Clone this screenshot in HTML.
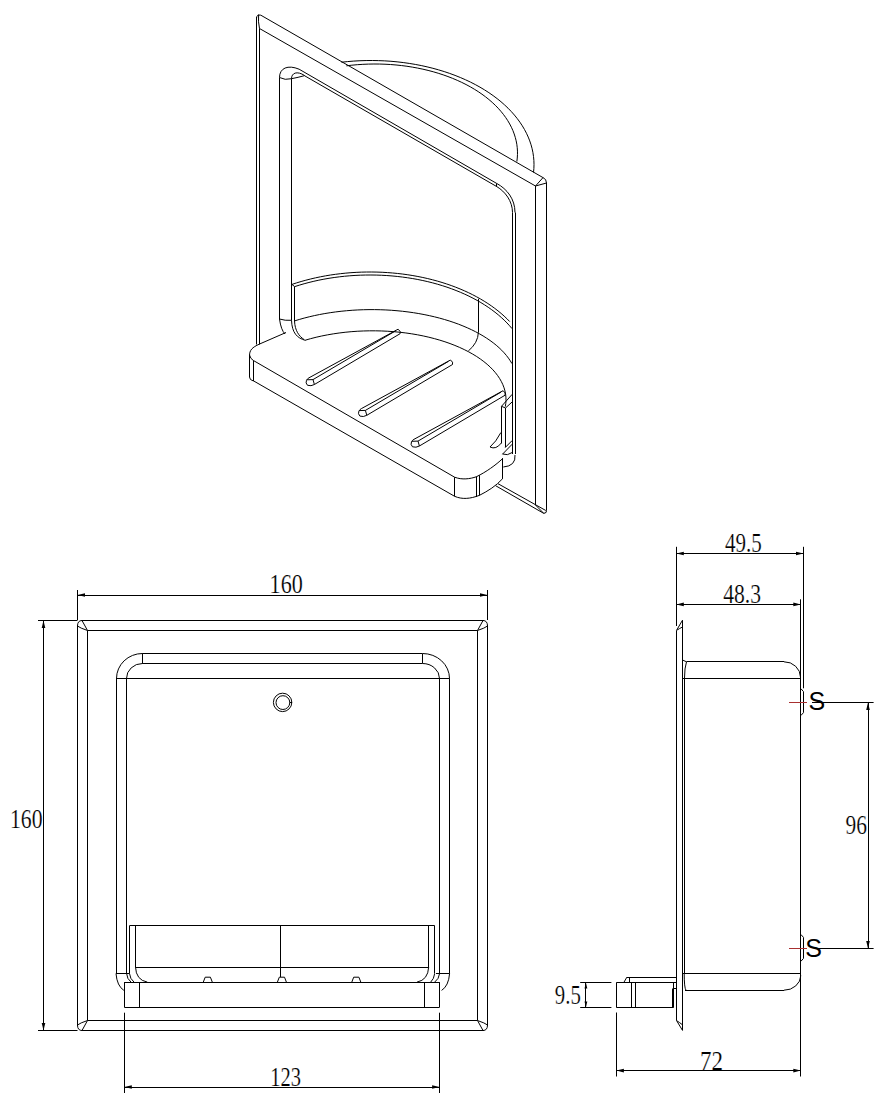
<!DOCTYPE html>
<html><head><meta charset="utf-8"><style>
html,body{margin:0;padding:0;background:#fff;width:896px;height:1118px;overflow:hidden}
svg{display:block}
text{fill:#000;stroke:#fff;stroke-width:0.2px;paint-order:normal}
</style></head><body>
<svg width="896" height="1118" viewBox="0 0 896 1118">
<g fill="none" stroke="#000" stroke-width="1">
<line x1="77.5" y1="590" x2="77.5" y2="620"/>
<line x1="487.5" y1="590" x2="487.5" y2="620"/>
<line x1="77.5" y1="595.5" x2="487.5" y2="595.5"/>
<polygon points="77.5,595 85.0,593.2 85.0,596.8" fill="#000" stroke="none"/>
<polygon points="487.5,595 480.0,593.2 480.0,596.8" fill="#000" stroke="none"/>
<text x="269.6" y="593.0" font-size="26.5" font-family="Liberation Serif, serif" textLength="33.2" lengthAdjust="spacingAndGlyphs" text-anchor="start">160</text>
<line x1="38" y1="620.5" x2="77.5" y2="620.5"/>
<line x1="38" y1="1030.5" x2="77.5" y2="1030.5"/>
<line x1="43.5" y1="620.5" x2="43.5" y2="1030.5"/>
<polygon points="43.5,620.5 41.7,628.0 45.3,628.0" fill="#000" stroke="none"/>
<polygon points="43.5,1030.5 41.7,1023.0 45.3,1023.0" fill="#000" stroke="none"/>
<text x="10.0" y="827.9" font-size="26.5" font-family="Liberation Serif, serif" textLength="32.6" lengthAdjust="spacingAndGlyphs" text-anchor="start">160</text>
<line x1="81.5" y1="620.5" x2="484" y2="620.5"/>
<line x1="81.5" y1="1030.5" x2="484" y2="1030.5"/>
<line x1="77.5" y1="625" x2="77.5" y2="1026"/>
<line x1="487.5" y1="625" x2="487.5" y2="1026"/>
<path d="M77.5,626 Q77.5,620.5 82,620.5 L87.5,630.5 Q80,628 77.5,626"/>
<path d="M487.5,626 Q487.5,620.5 483,620.5 L477.5,630.5 Q485,628 487.5,626"/>
<path d="M77.5,1025 Q77.5,1030.5 82,1030.5 L87.5,1020.5 Q80,1023 77.5,1025"/>
<path d="M487.5,1025 Q487.5,1030.5 483,1030.5 L477.5,1020.5 Q485,1023 487.5,1025"/>
<line x1="87.5" y1="630.5" x2="477.5" y2="630.5"/>
<line x1="87.5" y1="1020.5" x2="477.5" y2="1020.5"/>
<line x1="87.5" y1="630.5" x2="87.5" y2="1020.5"/>
<line x1="477.5" y1="630.5" x2="477.5" y2="1020.5"/>
<line x1="142.2" y1="653.5" x2="422.4" y2="653.5"/>
<line x1="142.2" y1="663.5" x2="422.4" y2="663.5"/>
<line x1="142.5" y1="653.5" x2="142.5" y2="663.5"/>
<line x1="422.5" y1="653.5" x2="422.5" y2="663.5"/>
<line x1="116" y1="678.5" x2="449.6" y2="678.5"/>
<path d="M116.5,678.5 A26,25 0 0 1 142.5,653.5"/>
<path d="M126.5,678.5 A16,15 0 0 1 142.5,663.5"/>
<path d="M449.5,678.5 A27,25 0 0 0 422.5,653.5"/>
<path d="M439.5,678.5 A17,15 0 0 0 422.5,663.5"/>
<line x1="116.5" y1="678.5" x2="116.5" y2="973.5"/>
<line x1="126.5" y1="678.5" x2="126.5" y2="973.5"/>
<line x1="449.5" y1="678.5" x2="449.5" y2="973.5"/>
<line x1="439.5" y1="678.5" x2="439.5" y2="973.5"/>
<line x1="116" y1="973.5" x2="129.5" y2="973.5"/>
<line x1="436" y1="973.5" x2="449.6" y2="973.5"/>
<circle cx="282.6" cy="702.4" r="9.2"/>
<circle cx="282.9" cy="702.6" r="6.9"/>
<line x1="289.6" y1="702.5" x2="292" y2="702.5"/>
<line x1="129.5" y1="925.5" x2="434.7" y2="925.5"/>
<line x1="129.5" y1="925.7" x2="129.5" y2="973.5"/>
<line x1="135.5" y1="925.7" x2="135.5" y2="967"/>
<line x1="434.5" y1="925.7" x2="434.5" y2="973.5"/>
<line x1="428.5" y1="925.7" x2="428.5" y2="967"/>
<line x1="135.5" y1="967.5" x2="428.7" y2="967.5"/>
<line x1="280.5" y1="925.7" x2="280.5" y2="977"/>
<path d="M135.5,967 Q136,980 147.3,982.1"/>
<path d="M428.7,967 Q428,980 417,982.1"/>
<path d="M116,973.5 Q117,986 123.9,990.4"/>
<path d="M449.6,973.5 Q448.6,986 441.6,990.4"/>
<path d="M126.6,973.5 Q127,979 131,982.1"/>
<path d="M129.5,973.5 Q130,979 134,982.1"/>
<path d="M439.6,973.5 Q439,979 434.7,982.1"/>
<path d="M434.7,973.5 Q434,979 430.7,982.1"/>
<path d="M203.3,982.1 L205.20000000000002,977.2 L210.4,977.2 L212.3,982.1"/>
<path d="M277.4,982.1 L279.29999999999995,977.2 L284.5,977.2 L286.4,982.1"/>
<path d="M351.8,982.1 L353.7,977.2 L358.90000000000003,977.2 L360.8,982.1"/>
<line x1="124.3" y1="982.5" x2="439.6" y2="982.5"/>
<line x1="124.3" y1="1007.5" x2="439.6" y2="1007.5"/>
<line x1="124.5" y1="982.1" x2="124.5" y2="1007.1"/>
<line x1="439.5" y1="982.1" x2="439.5" y2="1007.1"/>
<line x1="139.5" y1="982.1" x2="139.5" y2="1007.1"/>
<line x1="424.5" y1="982.1" x2="424.5" y2="1007.1"/>
<line x1="124.5" y1="1012.7" x2="124.5" y2="1093"/>
<line x1="439.5" y1="1012.7" x2="439.5" y2="1093"/>
<line x1="124.3" y1="1087.5" x2="439.6" y2="1087.5"/>
<polygon points="124.3,1087 131.8,1085.2 131.8,1088.8" fill="#000" stroke="none"/>
<polygon points="439.6,1087 432.1,1085.2 432.1,1088.8" fill="#000" stroke="none"/>
<text x="270.2" y="1085.8" font-size="26.5" font-family="Liberation Serif, serif" textLength="30.8" lengthAdjust="spacingAndGlyphs" text-anchor="start">123</text>
<line x1="676.5" y1="546.8" x2="676.5" y2="626"/>
<line x1="803.5" y1="546.8" x2="803.5" y2="688.3"/>
<line x1="676.3" y1="553.5" x2="803.5" y2="553.5"/>
<polygon points="676.3,553.5 683.8,551.7 683.8,555.3" fill="#000" stroke="none"/>
<polygon points="803.5,553.5 796.0,551.7 796.0,555.3" fill="#000" stroke="none"/>
<text x="725.0" y="552.2" font-size="26.5" font-family="Liberation Serif, serif" textLength="36.8" lengthAdjust="spacingAndGlyphs" text-anchor="start">49.5</text>
<line x1="676.3" y1="604.5" x2="800.8" y2="604.5"/>
<polygon points="676.3,604.4 683.8,602.6 683.8,606.1999999999999" fill="#000" stroke="none"/>
<polygon points="800.8,604.4 793.3,602.6 793.3,606.1999999999999" fill="#000" stroke="none"/>
<text x="723.2" y="603.0" font-size="26.5" font-family="Liberation Serif, serif" textLength="37.8" lengthAdjust="spacingAndGlyphs" text-anchor="start">48.3</text>
<line x1="800.5" y1="599.3" x2="800.5" y2="1076.5"/>
<path d="M676.5,630.4 L682.5,620.2 L682.5,1030.4 L676.5,1020.5 Z"/>
<path d="M676.8,630.2 Q679.5,628.5 682.5,627"/>
<path d="M676.5,1020.5 Q679.5,1022.5 682.5,1024.8"/>
<line x1="686.5" y1="661.5" x2="784" y2="661.5"/>
<path d="M784,661.8 A16.3,15.5 0 0 1 800.5,677.3"/>
<line x1="682.4" y1="678.5" x2="800.8" y2="678.5"/>
<line x1="684.5" y1="678.5" x2="684.5" y2="973.3"/>
<path d="M682.5,660 L686.5,661.8 Q684.5,668 684.5,678"/>
<line x1="682.4" y1="973.5" x2="800.8" y2="973.5"/>
<line x1="685" y1="990.5" x2="784" y2="990.5"/>
<path d="M800.8,975.5 A16.8,15 0 0 1 784,990.2"/>
<path d="M684.2,973.3 Q684.2,988 686,990.2"/>
<path d="M800.8,688.6 L803.5,691.6 L803.5,712.6 L800.8,715.6"/>
<line x1="789" y1="702.5" x2="807" y2="702.5" stroke-width="1" stroke="#a83030"/>
<line x1="812" y1="702.5" x2="873.6" y2="702.5"/>
<text x="808.6" y="710.0" font-size="25" font-family="Liberation Sans, sans-serif" style="stroke:none" text-anchor="start">S</text>
<path d="M800.8,934.4 L803.5,937.4 L803.5,958.4 L800.8,961.4"/>
<line x1="789" y1="948.5" x2="807" y2="948.5" stroke-width="1" stroke="#a83030"/>
<line x1="818" y1="948.5" x2="873.6" y2="948.5"/>
<text x="805.2" y="957.0" font-size="25" font-family="Liberation Sans, sans-serif" style="stroke:none" text-anchor="start">S</text>
<line x1="868.5" y1="702.6" x2="868.5" y2="948.4"/>
<polygon points="868,702.6 866.2,710.1 869.8,710.1" fill="#000" stroke="none"/>
<polygon points="868,948.4 866.2,940.9 869.8,940.9" fill="#000" stroke="none"/>
<text x="845.6" y="834.2" font-size="26.5" font-family="Liberation Serif, serif" textLength="21.4" lengthAdjust="spacingAndGlyphs" text-anchor="start">96</text>
<line x1="626.6" y1="977.5" x2="676.5" y2="977.5"/>
<line x1="624.1" y1="982" x2="626.8" y2="977.3"/>
<line x1="629.5" y1="977.5" x2="629.5" y2="982.5"/>
<line x1="616.4" y1="982.5" x2="676.5" y2="982.5"/>
<line x1="616.4" y1="1007.5" x2="673.6" y2="1007.5"/>
<line x1="616.5" y1="982.5" x2="616.5" y2="1007.5"/>
<line x1="631.5" y1="982.5" x2="631.5" y2="1007.5"/>
<line x1="635.5" y1="982.5" x2="635.5" y2="1007.5"/>
<line x1="673.6" y1="988.5" x2="676.5" y2="988.5"/>
<line x1="673.5" y1="982.5" x2="673.5" y2="1007.5"/>
<line x1="672.5" y1="988.5" x2="672.5" y2="1007.5"/>
<line x1="580.2" y1="982.5" x2="611.4" y2="982.5"/>
<line x1="580.2" y1="1007.5" x2="611.4" y2="1007.5"/>
<line x1="585.5" y1="982.5" x2="585.5" y2="1007.5"/>
<polygon points="585.9,982.5 584.5,988.5 587.3,988.5" fill="#000" stroke="none"/>
<polygon points="585.9,1007.5 584.5,1001.5 587.3,1001.5" fill="#000" stroke="none"/>
<text x="554.8" y="1003.9" font-size="26.5" font-family="Liberation Serif, serif" textLength="26.0" lengthAdjust="spacingAndGlyphs" text-anchor="start">9.5</text>
<line x1="616.5" y1="1012.5" x2="616.5" y2="1076.5"/>
<line x1="616.4" y1="1070.5" x2="800.8" y2="1070.5"/>
<polygon points="616.4,1070.6 623.9,1068.8 623.9,1072.3999999999999" fill="#000" stroke="none"/>
<polygon points="800.8,1070.6 793.3,1068.8 793.3,1072.3999999999999" fill="#000" stroke="none"/>
<text x="700.0" y="1069.9" font-size="26.5" font-family="Liberation Serif, serif" textLength="23.0" lengthAdjust="spacingAndGlyphs" text-anchor="start">72</text>
<line x1="256.5" y1="17" x2="256.5" y2="344.5"/>
<line x1="259.5" y1="28.5" x2="259.5" y2="344.5"/>
<path d="M256.5,18 Q257,14 260.5,15.3"/>
<path d="M258.6,14.6 Q258,22 259.5,28.5"/>
<line x1="260.5" y1="15.0" x2="543" y2="177.6"/>
<line x1="259.5" y1="28.5" x2="535.5" y2="186"/>
<path d="M543,177.6 Q546.5,179 546.5,183"/>
<line x1="543" y1="177.6" x2="535.5" y2="186"/>
<path d="M535.5,186 Q541,184.5 546.5,183"/>
<line x1="546.5" y1="183" x2="546.5" y2="510.5"/>
<line x1="535.5" y1="186" x2="535.5" y2="505"/>
<line x1="498" y1="483.7" x2="545.8" y2="510.5"/>
<line x1="495.6" y1="485.7" x2="543.8" y2="513.4"/>
<path d="M535.5,505 L543.8,513.4 Q547,513 546.5,510.5"/>
<line x1="279.5" y1="77.5" x2="279.5" y2="319"/>
<line x1="291.5" y1="78.7" x2="291.5" y2="320.3"/>
<path d="M279.5,77.5 C279.5,68 288,64.5 299.1,69.2"/>
<path d="M291.5,78.7 C291.5,73 297,70.5 304.7,75.6"/>
<path d="M279.5,77.5 Q285,80.5 291.5,78.7"/>
<path d="M291.5,78.7 Q298,77.5 304.7,75.6"/>
<line x1="299.1" y1="69.2" x2="496.8" y2="183.5"/>
<line x1="304.7" y1="75.8" x2="496.8" y2="186.6"/>
<line x1="496.5" y1="183.5" x2="496.5" y2="186.6"/>
<path d="M496.8,183.5 C507,189 515,199 515,212.5"/>
<path d="M496.8,186.6 C505,191.5 512.5,201 512.5,212.5"/>
<line x1="512.5" y1="212.5" x2="512.5" y2="454"/>
<line x1="515.5" y1="212.5" x2="515.5" y2="454"/>
<polyline points="341.46,62.22 347.59,61.58 353.75,61.08 359.94,60.74 366.15,60.55 372.36,60.50 378.57,60.61 384.76,60.87 390.94,61.28 397.09,61.84 403.20,62.55 409.26,63.41 415.27,64.41 421.22,65.56 427.09,66.85 432.88,68.29 438.58,69.86 444.18,71.57 449.68,73.42 455.06,75.40 460.32,77.50 465.45,79.74 470.44,82.09 475.29,84.57 479.98,87.16 484.52,89.87 488.90,92.68 493.10,95.60 497.12,98.62 500.97,101.73 504.62,104.94 508.08,108.23 511.34,111.60 514.40,115.05 517.24,118.57 519.88,122.16 522.30,125.81 524.50,129.52 526.48,133.27 528.23,137.07 529.75,140.92 531.05,144.79 532.11,148.70 532.93,152.62 533.53,156.57 533.88,160.53 534.00,164.49 533.88,168.45 533.53,172.41"/>
<polyline points="346.37,65.82 351.82,65.19 357.31,64.69 362.83,64.33 368.37,64.10 373.91,64.00 379.46,64.04 385.00,64.22 390.53,64.53 396.03,64.97 401.50,65.55 406.93,66.26 412.31,67.11 417.64,68.08 422.90,69.18 428.09,70.41 433.19,71.76 438.21,73.24 443.14,74.83 447.96,76.55 452.67,78.38 457.26,80.33 461.73,82.38 466.06,84.54 470.26,86.81 474.31,89.18 478.22,91.64 481.96,94.19 485.55,96.84 488.96,99.57 492.21,102.38 495.27,105.27 498.16,108.23 500.85,111.26 503.36,114.35 505.67,117.50 507.79,120.70 509.70,123.96 511.41,127.25 512.91,130.59 514.20,133.96 515.28,137.36 516.15,140.78 516.81,144.22 517.24,147.68 517.47,151.14 517.48,154.60 517.27,158.07 516.85,161.52"/>
<line x1="294.5" y1="286.5" x2="294.5" y2="321"/>
<line x1="291.5" y1="284.1" x2="294.5" y2="286.5"/>
<polyline points="291.82,284.46 296.42,282.95 301.10,281.53 305.85,280.21 310.66,278.98 315.54,277.84 320.47,276.81 325.46,275.87 330.48,275.03 335.55,274.30 340.66,273.66 345.80,273.13 350.96,272.70 356.14,272.37 361.33,272.14 366.54,272.02 371.75,272.01 376.95,272.09 382.15,272.28 387.34,272.58 392.50,272.97 397.65,273.47 402.76,274.07 407.85,274.78 412.89,275.58 417.89,276.49 422.84,277.49 427.73,278.59 432.57,279.79 437.34,281.09 442.04,282.47 446.67,283.96 451.22,285.53 455.68,287.19 460.05,288.94 464.34,290.78 468.52,292.70 472.60,294.70 476.58,296.79 480.44,298.95 484.20,301.19 487.83,303.50 491.34,305.88 494.73,308.33 497.99,310.85 501.12,313.43 504.11,316.08 506.96,318.78 509.67,321.53"/>
<polyline points="294.62,286.64 299.33,285.15 304.11,283.76 308.96,282.46 313.89,281.27 318.87,280.17 323.91,279.18 329.01,278.29 334.15,277.51 339.32,276.83 344.54,276.26 349.78,275.79 355.04,275.43 360.32,275.18 365.61,275.04 370.91,275.00 376.20,275.07 381.49,275.25 386.76,275.54 392.02,275.94 397.25,276.44 402.45,277.05 407.62,277.77 412.74,278.58 417.82,279.51 422.84,280.54 427.80,281.66 432.70,282.89 437.54,284.22 442.29,285.65 446.97,287.17 451.56,288.79 456.06,290.50 460.46,292.30 464.77,294.19 468.97,296.17 473.05,298.23 477.03,300.37 480.89,302.59 484.62,304.90 488.23,307.27 491.70,309.72 495.04,312.24 498.24,314.82 501.30,317.47 504.21,320.18 506.98,322.94 509.59,325.77 512.05,328.64"/>
<polyline points="294.43,320.94 299.25,319.47 304.18,318.09 309.22,316.80 314.34,315.62 319.56,314.54 324.85,313.56 330.21,312.69 335.63,311.93 341.10,311.27 346.63,310.72 352.19,310.28 357.77,309.95 363.38,309.72 369.01,309.61 374.63,309.61 380.25,309.73 385.86,309.95 391.45,310.28 397.01,310.72 402.53,311.27 408.01,311.93 413.43,312.70 418.79,313.57 424.08,314.55 429.29,315.63 434.41,316.81 439.45,318.09 444.38,319.47 449.20,320.95 453.91,322.52 458.50,324.18 462.95,325.94 467.27,327.77 471.45,329.70 475.48,331.70 479.35,333.78 483.07,335.93 486.62,338.16 489.99,340.45 493.20,342.81 496.22,345.23 499.05,347.71 501.70,350.24 504.15,352.83 506.40,355.46 508.45,358.13 510.30,360.84 511.95,363.58"/>
<polyline points="305.27,340.19 310.62,338.66 316.11,337.26 321.72,335.99 327.44,334.86 333.25,333.86 339.14,333.00 345.11,332.27 351.13,331.70 357.20,331.26 363.30,330.97 369.42,330.82 375.54,330.82 381.66,330.96 387.76,331.25 393.83,331.68 399.86,332.25 405.82,332.96 411.72,333.82 417.53,334.81 423.25,335.95 428.87,337.21 434.36,338.61 439.72,340.13 444.95,341.78 450.02,343.55 454.92,345.44 459.66,347.45 464.20,349.56 468.56,351.78 472.71,354.10 476.66,356.51 480.38,359.02 483.87,361.61 487.14,364.28 490.15,367.02 492.93,369.84 495.44,372.72 497.70,375.65 499.70,378.63 501.42,381.66 502.88,384.72 504.06,387.82 504.96,390.94 505.58,394.08 505.93,397.23 505.99,400.38 505.77,403.54 505.27,406.68"/>
<path d="M279.5,319 Q281,330 285,334"/>
<path d="M279.5,319 Q285,320.8 291.5,320.3"/>
<path d="M291.5,320.3 C292,333 297,338 305.5,340.4"/>
<path d="M294.5,321 C295,331 299,336 304,339.5"/>
<line x1="478.5" y1="298.8" x2="478.5" y2="332.3"/>
<path d="M478.4,332.3 Q478,343 468.3,351"/>
<path d="M286,332.5 L259.6,344 C252,347.5 249.5,350 249.5,356 L249.5,377 Q249.5,380 253.4,381"/>
<path d="M249.5,355 Q250.5,359 253.4,360.5"/>
<line x1="253.5" y1="360.5" x2="253.5" y2="381"/>
<line x1="253.4" y1="360.5" x2="454.6" y2="477.2"/>
<line x1="253.4" y1="380.8" x2="454.6" y2="496.3"/>
<path d="M454.6,477.2 C462,480 470,479 476.5,476.7 C486,472 496,465 502.6,458.6"/>
<path d="M454.6,496.3 C462,499.5 470,499 479.5,495.3 C488,491 496,486 502.6,478.7"/>
<line x1="454.5" y1="477.2" x2="454.5" y2="496.3"/>
<line x1="476.5" y1="476.5" x2="476.5" y2="497"/>
<line x1="479.5" y1="475.3" x2="479.5" y2="495.5"/>
<line x1="502.5" y1="458.6" x2="502.5" y2="478.7"/>
<path d="M309.00,377.80 L398.10,329.20 L400.10,331.40 L400.10,333.70 L314.40,384.50 Q311.00,386.50 307.50,385.30 Q305.20,383.00 306.50,380.30 Q307.50,378.50 309.00,377.80"/>
<path d="M306.80,379.80 L313.00,379.60 L314.40,384.50"/>
<path d="M313.00,379.60 L396.00,330.60"/>
<path d="M361.40,408.60 L450.50,360.00 L452.50,362.20 L452.50,364.50 L366.80,415.30 Q363.40,417.30 359.90,416.10 Q357.60,413.80 358.90,411.10 Q359.90,409.30 361.40,408.60"/>
<path d="M359.20,410.60 L365.40,410.40 L366.80,415.30"/>
<path d="M365.40,410.40 L448.40,361.40"/>
<path d="M414.00,439.30 L503.10,390.70 L505.10,392.90 L505.10,395.20 L419.40,446.00 Q416.00,448.00 412.50,446.80 Q410.20,444.50 411.50,441.80 Q412.50,440.00 414.00,439.30"/>
<path d="M411.80,441.30 L418.00,441.10 L419.40,446.00"/>
<path d="M418.00,441.10 L501.00,392.10"/>
<line x1="501.5" y1="406.3" x2="501.5" y2="443.4"/>
<line x1="505.5" y1="408" x2="505.5" y2="447.4"/>
<line x1="501.5" y1="406.3" x2="512.2" y2="394.3"/>
<line x1="505.5" y1="408" x2="512.2" y2="401.9"/>
<line x1="501.5" y1="406.3" x2="505.5" y2="408"/>
<path d="M500.9,432.5 Q496,442 490,447 Q496,450 501.3,443"/>
<line x1="505.3" y1="447.4" x2="512.2" y2="440.5"/>
<line x1="502.5" y1="454.2" x2="512.2" y2="444.2"/>
<path d="M502.5,454 Q507.5,456 512.2,452.5"/>
<path d="M515,455 Q516,466 503.3,467"/>
<line x1="502.5" y1="458.2" x2="502.5" y2="478.7"/>
</g>
</svg>
</body></html>
